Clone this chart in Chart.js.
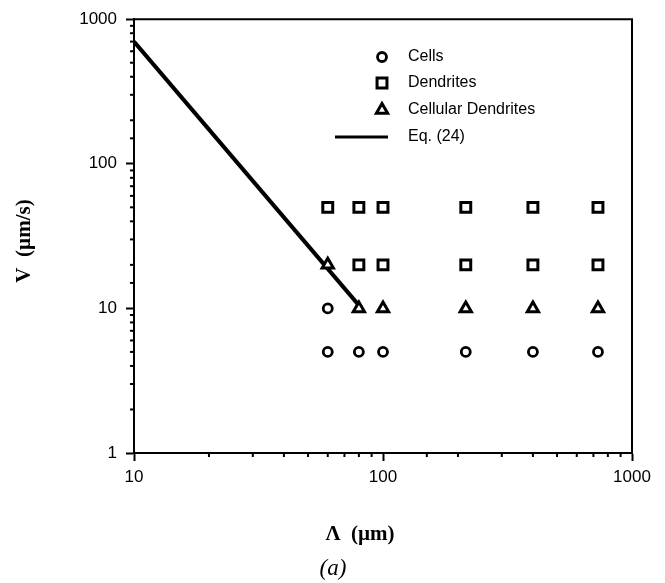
<!DOCTYPE html>
<html><head><meta charset="utf-8">
<script src="https://cdn.jsdelivr.net/npm/chart.js@4"></script>
<style>html,body{margin:0;padding:0;background:#fff}#wrap{width:665px;height:583px}</style>
</head><body><div id="wrap"><canvas id="c" width="665" height="583"></canvas></div>
<script>
// ---- data ----
const cellsX = [60, 60, 80, 100, 215, 400, 730];
const cellsY = [10, 5, 5, 5, 5, 5, 5];
const dendX = [60, 80, 100, 215, 400, 730, 80, 100, 215, 400, 730];
const dendY = [50, 50, 50, 50, 50, 50, 20, 20, 20, 20, 20];
const cdX = [60, 80, 100, 215, 400, 730];
const cdY = [20, 10, 10, 10, 10, 10];
const eqX = [10, 82];
const eqY = [700, 10];
const xTickLabels = [10, 100, 1000];
const yTickLabels = [1, 10, 100, 1000];
const seriesNames = ['Cells', 'Dendrites', 'Cellular Dendrites', 'Eq. (24)'];
const xTitle = 'Λ  (µm)';
const yTitle = 'V  (µm/s)';
const caption = '(a)';

const pts = (xs, ys) => xs.map((x, i) => ({x, y: ys[i]}));
const isMajor = (v, list) => list.some(m => Math.abs(m - v) < 1e-9);

const frameAndExtras = {
  id: 'extras',
  afterDraw(chart) {
    const ctx = chart.ctx, a = chart.chartArea;
    const xs = chart.scales.x, ys = chart.scales.y;
    ctx.save();
    ctx.strokeStyle = '#000';
    ctx.lineWidth = 2;
    // top and right frame
    ctx.beginPath();
    ctx.moveTo(a.left, a.top); ctx.lineTo(a.right, a.top); ctx.lineTo(a.right, a.bottom);
    ctx.stroke();
    // minor ticks
    ctx.lineWidth = 2;
    xs.ticks.forEach(t => {
      if (isMajor(t.value, xTickLabels)) return;
      const p = xs.getPixelForValue(t.value);
      ctx.beginPath(); ctx.moveTo(p, a.bottom); ctx.lineTo(p, a.bottom + 4); ctx.stroke();
    });
    ys.ticks.forEach(t => {
      if (isMajor(t.value, yTickLabels)) return;
      const p = ys.getPixelForValue(t.value);
      ctx.beginPath(); ctx.moveTo(a.left - 4, p); ctx.lineTo(a.left, p); ctx.stroke();
    });
    // legend
    const lx = 382, tx = 408, rows = [57, 83, 110, 137];
    const styles = chart.data.datasets;
    for (let i = 0; i < 3; i++) {
      const d = styles[i];
      ctx.strokeStyle = '#000';
      ctx.fillStyle = '#fff';
      ctx.lineWidth = d.borderWidth;
      Chart.helpers.drawPoint(ctx, {
        pointStyle: d.pointStyle, radius: d.pointRadius, borderWidth: d.borderWidth, rotation: 0
      }, lx, rows[i]);
    }
    ctx.fillStyle = '#000';
    ctx.strokeStyle = '#000';
    ctx.font = '16px "Liberation Sans", Arial, sans-serif';
    ctx.textBaseline = 'middle';
    ctx.textAlign = 'left';
    for (let i = 0; i < 3; i++) ctx.fillText(seriesNames[i], tx, rows[i]);
    ctx.lineWidth = 3;
    ctx.beginPath(); ctx.moveTo(335, rows[3]); ctx.lineTo(388, rows[3]); ctx.stroke();
    ctx.fillText(seriesNames[3], tx, rows[3]);
    // axis titles
    ctx.font = 'bold 21px "Liberation Serif", "Times New Roman", serif';
    ctx.textAlign = 'center';
    ctx.textBaseline = 'alphabetic';
    ctx.fillText(xTitle, 360, 540);
    ctx.save();
    ctx.translate(30, 241);
    ctx.rotate(-Math.PI / 2);
    ctx.fillText(yTitle, 0, 0);
    ctx.restore();
    ctx.font = 'italic 23px "Liberation Serif", "Times New Roman", serif';
    ctx.fillText(caption, 333, 575);
    ctx.restore();
  }
};

const tickFont = {family: '"Liberation Sans", Arial, sans-serif', size: 17};

new Chart(document.getElementById('c'), {
  type: 'scatter',
  data: {
    datasets: [
      {label: seriesNames[0], data: pts(cellsX, cellsY), pointStyle: 'circle', pointRadius: 4.5,
       borderWidth: 2.8, borderColor: '#000', backgroundColor: '#fff', pointHoverRadius: 4.5},
      {label: seriesNames[1], data: pts(dendX, dendY), pointStyle: 'rect', pointRadius: 7,
       borderWidth: 3, borderColor: '#000', backgroundColor: '#fff', pointHoverRadius: 7},
      {label: seriesNames[2], data: pts(cdX, cdY), pointStyle: 'triangle', pointRadius: 6.5,
       borderWidth: 3, borderColor: '#000', backgroundColor: '#fff', pointHoverRadius: 6.5},
      {label: seriesNames[3], data: pts(eqX, eqY), type: 'line', showLine: true, pointRadius: 0,
       borderWidth: 4, borderColor: '#000', backgroundColor: '#000', fill: false, tension: 0}
    ]
  },
  options: {
    responsive: false,
    devicePixelRatio: 1,
    animation: false,
    layout: {padding: {left: 0, top: 15, right: 33, bottom: 0}},
    plugins: {legend: {display: false}, tooltip: {enabled: false}},
    scales: {
      x: {
        type: 'logarithmic', position: 'bottom', min: 10, max: 1000,
        border: {color: '#000', width: 2},
        grid: {drawOnChartArea: false, drawTicks: true, tickLength: 8, tickWidth: 2,
               tickColor: c => isMajor(c.tick.value, xTickLabels) ? '#000' : 'rgba(0,0,0,0)'},
        ticks: {autoSkip: false, maxRotation: 0, color: '#000', font: tickFont, padding: 6,
                callback: v => isMajor(v, xTickLabels) ? String(v) : ''},
        afterFit: s => { s.height = 130; }
      },
      y: {
        type: 'logarithmic', position: 'left', min: 1, max: 1000,
        border: {color: '#000', width: 2},
        grid: {drawOnChartArea: false, drawTicks: true, tickLength: 8, tickWidth: 2,
               tickColor: c => isMajor(c.tick.value, yTickLabels) ? '#000' : 'rgba(0,0,0,0)'},
        ticks: {autoSkip: false, color: '#000', font: tickFont, padding: 9,
                callback: v => isMajor(v, yTickLabels) ? String(v) : ''},
        afterFit: s => { s.width = 134; }
      }
    }
  },
  plugins: [frameAndExtras]
});
</script></body></html>
